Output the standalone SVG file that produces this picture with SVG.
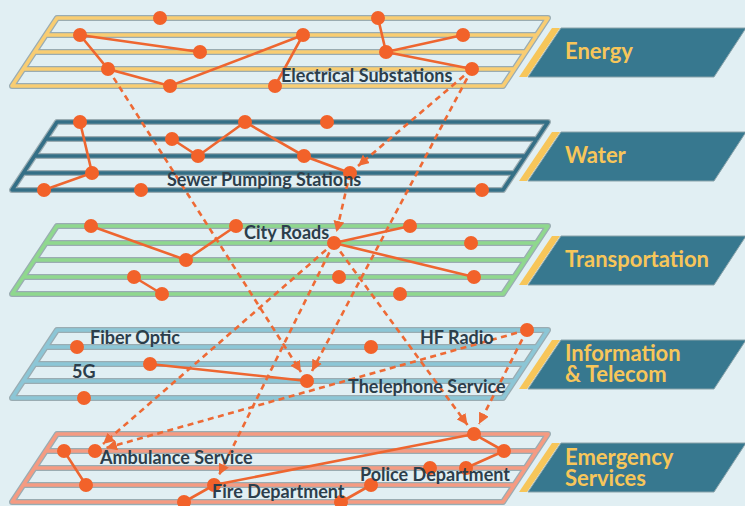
<svg xmlns="http://www.w3.org/2000/svg" xmlns:xlink="http://www.w3.org/1999/xlink" width="745" height="506" viewBox="0 0 745 506">
<style>
.bg{fill:#e1eff3}
.go{fill:none;stroke:#9aacb2;stroke-width:6;stroke-linejoin:round;stroke-linecap:round}
.gi{fill:none;stroke-width:3.6;stroke-linejoin:round;stroke-linecap:round}
.edge{fill:none;stroke:#ee6630;stroke-width:2.6;stroke-linecap:round}
.dash{fill:none;stroke:#ee6a35;stroke-width:2.6;stroke-dasharray:6 4.5;marker-end:url(#ah)}
.dot{fill:#f2622a}
.lbl{font-family:Lato,"Noto Sans","Liberation Sans",sans-serif;font-weight:700;font-size:18px;fill:#2c3e4b}
.tag{fill:#37788f;stroke:#8aa3aa;stroke-width:1}
.stripe{fill:#f7c65a}
.tagt{font-family:Lato,"Noto Sans","Liberation Sans",sans-serif;font-weight:700;font-size:22px;fill:#f7c65a}
</style>
<defs>
<path id="grid" d="M57,0 H548 L503,68 H12 Z M45.75,17 H536.75 M34.5,34 H525.5 M23.25,51 H514.25"/>
<marker id="ah" viewBox="0 0 10 10" refX="10" refY="5" markerWidth="11" markerHeight="11" markerUnits="userSpaceOnUse" orient="auto">
<path d="M0,0 L10,5 L0,10 z" fill="#ee6a35"/>
</marker>
</defs>
<rect class="bg" x="0" y="0" width="745" height="506"/>

<g id="layers">
<g id="layer-energy">
<use xlink:href="#grid" href="#grid" class="go" transform="translate(0,18)"/>
<use xlink:href="#grid" href="#grid" class="gi" stroke="#f9cd72" transform="translate(0,18)"/>
</g>
<g id="layer-water">
<use xlink:href="#grid" href="#grid" class="go" transform="translate(0,122)"/>
<use xlink:href="#grid" href="#grid" class="gi" stroke="#346f86" transform="translate(0,122)"/>
</g>
<g id="layer-transport">
<use xlink:href="#grid" href="#grid" class="go" transform="translate(0,226)"/>
<use xlink:href="#grid" href="#grid" class="gi" stroke="#8fd88e" transform="translate(0,226)"/>
</g>
<g id="layer-info">
<use xlink:href="#grid" href="#grid" class="go" transform="translate(0,330)"/>
<use xlink:href="#grid" href="#grid" class="gi" stroke="#8cc6d6" transform="translate(0,330)"/>
</g>
<g id="layer-emergency">
<use xlink:href="#grid" href="#grid" class="go" transform="translate(0,434)"/>
<use xlink:href="#grid" href="#grid" class="gi" stroke="#f59b82" transform="translate(0,434)"/>
</g>
</g>

<g id="connectors">
<path class="edge" d="M80,35 L200,52 M80,35 L108,69 L170,86 L303,35 L275,86 M378,18 L386,52 L463,35 M386,52 L472,69"/>
<path class="edge" d="M80,122 L92,173 L44,190 M172,139 L198,156 L245,122 L304,156 L350,173"/>
<path class="edge" d="M91,226 L186,260 L236,226 M410,226 L334,243 L474,277 M134,277 L162,294"/>
<path class="edge" d="M150,364 L307,381"/>
<path class="edge" d="M504,451 L474,434 L214,485 L184,502 M504,451 L466,468 M64,451 L86,485 M371,485 L341,502"/>
<path class="dash" d="M108,69 L301,372"/>
<path class="dash" d="M472,69 L358,166"/>
<path class="dash" d="M472,69 L312,371"/>
<path class="dash" d="M350,173 L336.5,232"/>
<path class="dash" d="M334,243 L103,444"/>
<path class="dash" d="M334,243 L219,475"/>
<path class="dash" d="M334,243 L467.5,425"/>
<path class="dash" d="M527,330 L106,448"/>
<path class="dash" d="M527,330 L479,424"/>
</g>

<g id="nodes-energy">
<circle class="dot" cx="160" cy="18" r="7"/><circle class="dot" cx="378" cy="18" r="7"/>
<circle class="dot" cx="80" cy="35" r="7"/><circle class="dot" cx="303" cy="35" r="7"/><circle class="dot" cx="463" cy="35" r="7"/>
<circle class="dot" cx="200" cy="52" r="7"/><circle class="dot" cx="386" cy="52" r="7"/>
<circle class="dot" cx="108" cy="69" r="7"/><circle class="dot" cx="472" cy="69" r="7"/>
<circle class="dot" cx="170" cy="86" r="7"/><circle class="dot" cx="275" cy="86" r="7"/>
</g>
<g id="node-electrical-substations"><text class="lbl" x="281" y="82">Electrical Substations</text></g>

<g id="nodes-water">
<circle class="dot" cx="80" cy="122" r="7"/><circle class="dot" cx="245" cy="122" r="7"/><circle class="dot" cx="327" cy="122" r="7"/>
<circle class="dot" cx="172" cy="139" r="7"/>
<circle class="dot" cx="198" cy="156" r="7"/><circle class="dot" cx="304" cy="156" r="7"/>
<circle class="dot" cx="92" cy="173" r="7"/><circle class="dot" cx="350" cy="173" r="7"/>
<circle class="dot" cx="44" cy="190" r="7"/><circle class="dot" cx="141" cy="190" r="7"/><circle class="dot" cx="482" cy="190" r="7"/>
</g>
<g id="node-sewer-pumping-stations"><text class="lbl" x="167" y="186">Sewer Pumping Stations</text></g>

<g id="nodes-transport">
<circle class="dot" cx="91" cy="226" r="7"/><circle class="dot" cx="236" cy="226" r="7"/><circle class="dot" cx="410" cy="226" r="7"/>
<circle class="dot" cx="334" cy="243" r="7"/><circle class="dot" cx="471" cy="243" r="7"/>
<circle class="dot" cx="186" cy="260" r="7"/>
<circle class="dot" cx="134" cy="277" r="7"/><circle class="dot" cx="339" cy="277" r="7"/><circle class="dot" cx="474" cy="277" r="7"/>
<circle class="dot" cx="162" cy="294" r="7"/><circle class="dot" cx="400" cy="294" r="7"/>
</g>
<g id="node-city-roads"><text class="lbl" x="244" y="239">City Roads</text></g>

<g id="nodes-info">
<circle class="dot" cx="527" cy="330" r="7"/>
<circle class="dot" cx="77" cy="347" r="7"/><circle class="dot" cx="371" cy="347" r="7"/>
<circle class="dot" cx="150" cy="364" r="7"/>
<circle class="dot" cx="307" cy="381" r="7"/>
<circle class="dot" cx="84" cy="398" r="7"/>
</g>
<g id="node-fiber-optic"><text class="lbl" x="90" y="344">Fiber Optic</text></g>
<g id="node-hf-radio"><text class="lbl" x="420" y="344">HF Radio</text></g>
<g id="node-5g"><text class="lbl" x="72" y="378">5G</text></g>
<g id="node-telephone"><text class="lbl" x="348" y="393">Thelephone Service</text></g>

<g id="nodes-emergency">
<circle class="dot" cx="474" cy="434" r="7"/>
<circle class="dot" cx="64" cy="451" r="7"/><circle class="dot" cx="95" cy="451" r="7"/><circle class="dot" cx="504" cy="451" r="7"/>
<circle class="dot" cx="430" cy="468" r="7"/><circle class="dot" cx="466" cy="468" r="7"/>
<circle class="dot" cx="86" cy="485" r="7"/><circle class="dot" cx="214" cy="485" r="7"/><circle class="dot" cx="371" cy="485" r="7"/>
<circle class="dot" cx="184" cy="502" r="7"/><circle class="dot" cx="341" cy="502" r="7"/>
</g>
<g id="node-ambulance"><text class="lbl" x="100" y="464">Ambulance Service</text></g>
<g id="node-fire"><text class="lbl" x="212" y="498">Fire Department</text></g>
<g id="node-police"><text class="lbl" x="360" y="481">Police Department</text></g>

<g id="tag-energy">
<polygon class="stripe" points="552,28 560,28 527,77 519,77"/>
<polygon class="tag" points="561,28 746,28 714,77 528,77"/>
<text class="tagt" x="565" y="59">Energy</text>
</g>
<g id="tag-water">
<polygon class="stripe" points="552,132 560,132 527,181 519,181"/>
<polygon class="tag" points="561,132 746,132 714,181 528,181"/>
<text class="tagt" x="565" y="163">Water</text>
</g>
<g id="tag-transportation">
<polygon class="stripe" points="552,236 560,236 527,285 519,285"/>
<polygon class="tag" points="561,236 746,236 714,285 528,285"/>
<text class="tagt" x="565" y="267">Transportation</text>
</g>
<g id="tag-info">
<polygon class="stripe" points="552,340 560,340 527,389 519,389"/>
<polygon class="tag" points="561,340 746,340 714,389 528,389"/>
<text class="tagt" x="565" y="361">Information</text>
<text class="tagt" x="565" y="382">&amp; Telecom</text>
</g>
<g id="tag-emergency">
<polygon class="stripe" points="552,443 560,443 527,492 519,492"/>
<polygon class="tag" points="561,443 746,443 714,492 528,492"/>
<text class="tagt" x="565" y="465">Emergency</text>
<text class="tagt" x="565" y="486">Services</text>
</g>
</svg>
